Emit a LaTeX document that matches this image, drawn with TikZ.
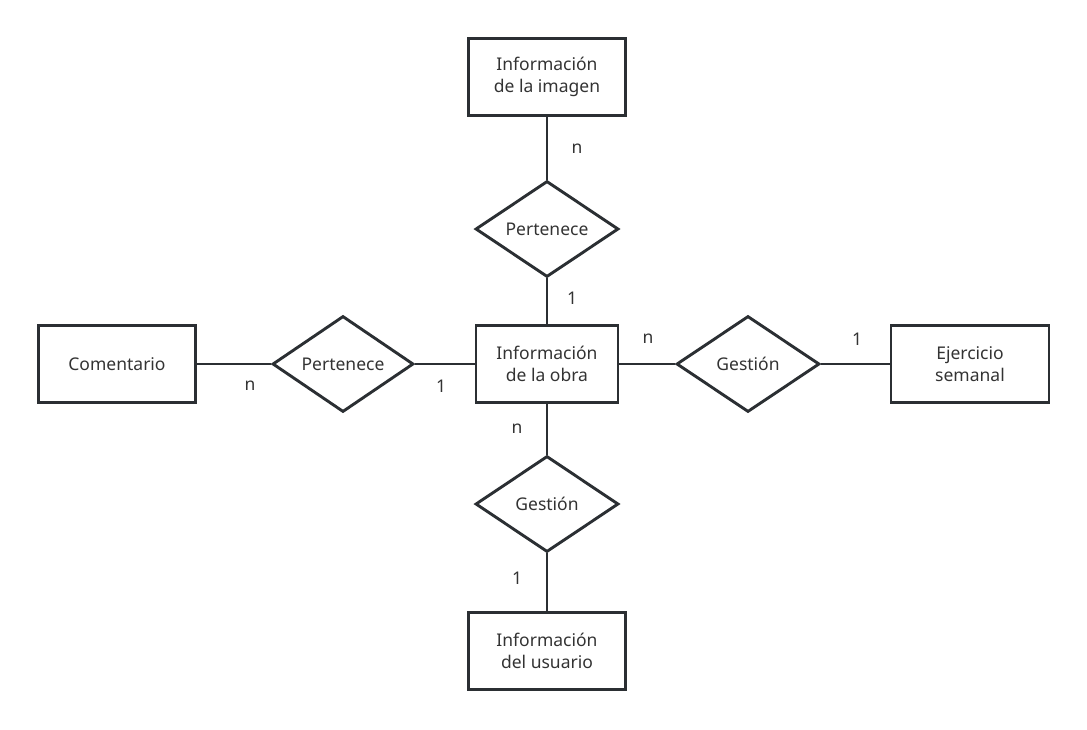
\documentclass[tikz,border=0pt]{standalone}
\usepackage{fontspec}
\setmainfont{Noto Sans}
\usetikzlibrary{shapes.geometric}
\definecolor{ink}{HTML}{2B2F33}
\definecolor{txt}{HTML}{333333}
\begin{document}
\begin{tikzpicture}[x=1pt,y=-1pt,
  entity/.style={draw=ink,line width=2.9pt,minimum width=157pt,minimum height=77pt,inner sep=0pt,align=center,font=\fontsize{17.5}{22.5}\selectfont,text=txt},
  rel/.style={draw=ink,line width=2.9pt,diamond,minimum width=143pt,minimum height=96pt,inner sep=0pt,aspect=1.5,align=center,font=\fontsize{17.5}{22}\selectfont,text=txt},
  conn/.style={draw=ink,line width=2.7pt},
  card/.style={font=\fontsize{17.5}{20}\selectfont,text=txt,inner sep=0pt}]
\useasboundingbox (0,0) rectangle (1087,729);
\node[entity] (img) at (547,77) {Información\\de la imagen};
\node[rel] (r1) at (547,229) {Pertenece};
\node[entity,minimum width=142pt] (obra) at (547,364) {Información\\de la obra};
\node[rel,minimum width=141pt] (r2) at (343,364) {Pertenece};
\node[entity] (com) at (117,364) {Comentario};
\node[rel] (r3) at (748,364) {Gestión};
\node[entity,minimum width=158pt] (eje) at (970,364) {Ejercicio\\semanal};
\node[rel] (r4) at (547,504) {Gestión};
\node[entity] (usr) at (547,651) {Información\\del usuario};
\draw[conn] (img) -- (r1);
\draw[conn] (r1) -- (obra);
\draw[conn] (com) -- (r2);
\draw[conn] (r2) -- (obra);
\draw[conn] (obra) -- (r3);
\draw[conn] (r3) -- (eje);
\draw[conn] (obra) -- (r4);
\draw[conn] (r4) -- (usr);
\node[card] (c1) at (577,149) {n};
\node[card] (c2) at (572,298) {1};
\node[card] (c3) at (250,386) {n};
\node[card] (c4) at (441,386) {1};
\node[card] (c5) at (648,339) {n};
\node[card] (c6) at (857,339) {1};
\node[card] (c7) at (517,429) {n};
\node[card] (c8) at (517,578) {1};
\end{tikzpicture}
\end{document}
